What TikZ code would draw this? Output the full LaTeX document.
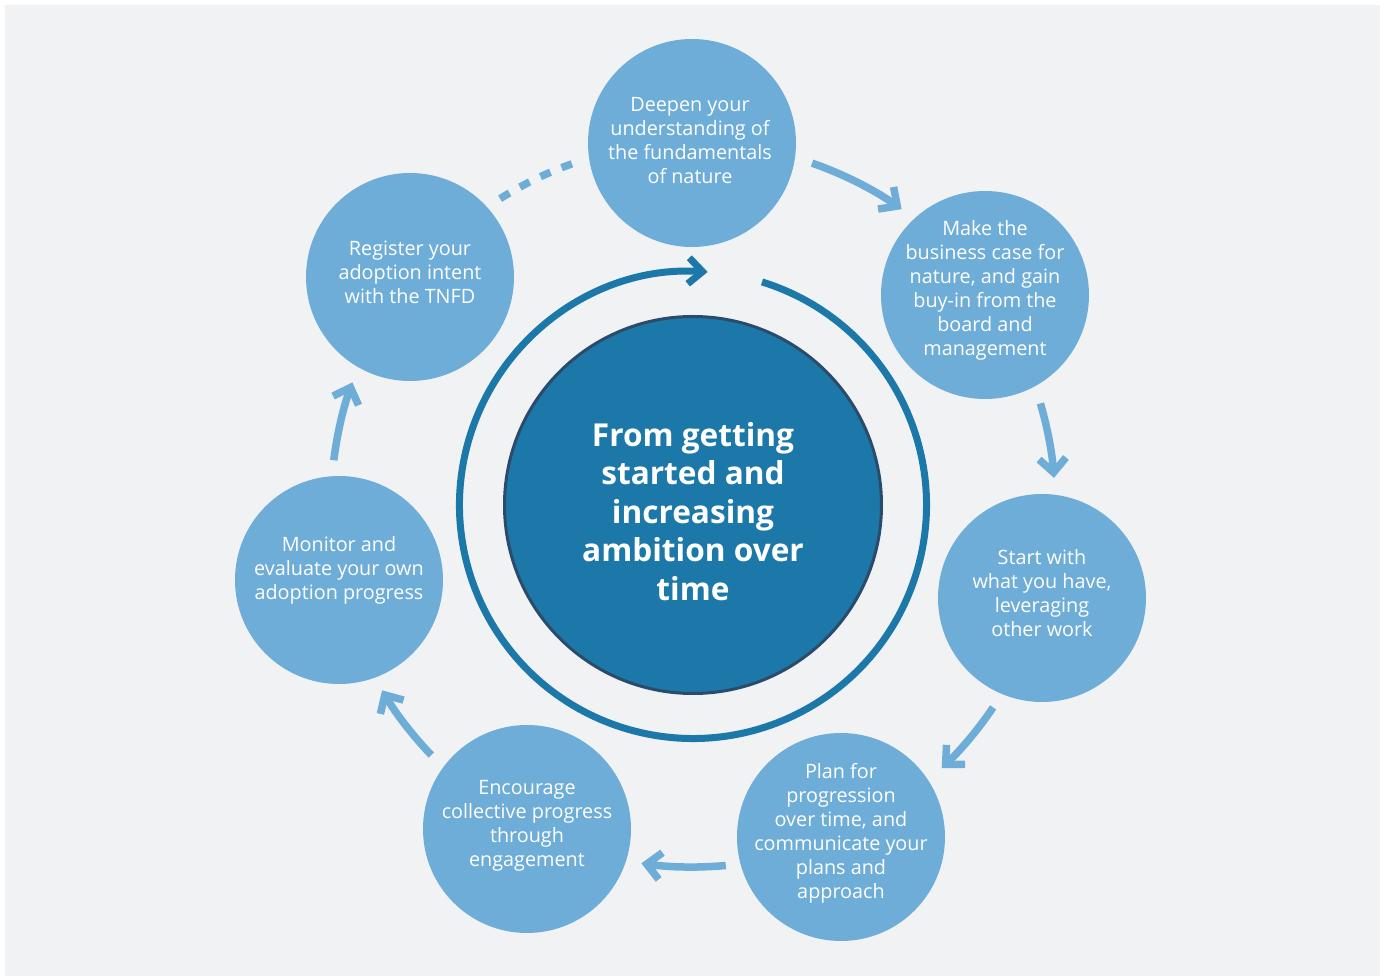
\documentclass[tikz,border=0pt]{standalone}
\usepackage{fontspec}
\setmainfont{Open Sans}
\usetikzlibrary{arrows.meta}
\definecolor{bg}{HTML}{F1F2F4}
\definecolor{lb}{HTML}{6DADD8}
\definecolor{db}{HTML}{1C78A8}
\definecolor{edgeblue}{HTML}{2A4B6B}
\tikzset{
  stage/.style={circle, fill=lb, minimum size=208pt, inner sep=0pt},
  stagetext/.style={text=white, align=center, inner sep=0pt, font=\fontsize{19.8}{24}\selectfont},
  flow/.style={draw=lb, line width=7.5pt, -{Straight Barb[length=14pt,width=27pt]}},
  dotflow/.style={draw=lb, line width=7.5pt, dash pattern=on 11pt off 12pt},
  ring/.style={draw=db, line width=7pt, -{Straight Barb[length=14pt,width=26pt]}},
  core/.style={circle, fill=db, draw=edgeblue, line width=3pt, minimum size=377pt, inner sep=0pt},
  coretext/.style={text=white, align=center, inner sep=0pt, font=\fontsize{31.6}{38.5}\selectfont\bfseries}
}
\begin{document}
\begin{tikzpicture}[x=1pt,y=1pt]
\useasboundingbox (-693,505) rectangle (694,-471);
\fill[white] (-693,505) rectangle (694,-471);
\fill[bg] (-688,500) rectangle (687,-471);

% stage circles
\node[stage] (deep) at (-1,362) {};
\node[stage] (make) at (292,210) {};
\node[stage] (start) at (349,-93) {};
\node[stage] (plan) at (148,-332) {};
\node[stage] (enc) at (-166,-324) {};
\node[stage] (mon) at (-354,-75) {};
\node[stage] (reg) at (-283,228) {};

\node[stagetext] (deept) at (-3,364) {Deepen your\\understanding of\\the fundamentals\\of nature};
\node[stagetext] (maket) at (292,214.5) {Make the\\business case for\\nature, and gain\\buy-in from the\\board and\\management};
\node[stagetext] (startt) at (349,-88.5) {Start with\\what you have,\\leveraging\\other work};
\node[stagetext] (plant) at (148,-328.5) {Plan for\\progression\\over time, and\\communicate your\\plans and\\approach};
\node[stagetext] (enct) at (-166,-320.5) {Encourage\\collective progress\\through\\engagement};
\node[stagetext] (mont) at (-354,-65.5) {Monitor and\\evaluate your own\\adoption progress};
\node[stagetext] (regt) at (-283,233) {Register your\\adoption intent\\with the TNFD};

% centre
\node[core] (core) at (0,0) {};
\node[coretext] (coret) at (0,-6.5) {From getting\\started and\\increasing\\ambition over\\time};

% ring arrow
\coordinate (ringstart) at (72.8:233.5);
\draw[ring] (ringstart) arc[start angle=72.8, end angle=-273.6, radius=233.5];

% flow arrows
\coordinate (f1) at (70.8:362);
\coordinate (f2) at (16.3:362);
\coordinate (f3) at (-34.0:362);
\coordinate (f4) at (-84.8:362);
\coordinate (f5) at (-136.3:362);
\coordinate (f6) at (172.9:362);
\coordinate (f7) at (122.2:362);
\draw[flow] (f1) arc[start angle=70.8, end angle=54.8, radius=362];
\draw[flow] (f2) arc[start angle=16.3, end angle=4.3, radius=362];
\draw[flow] (f3) arc[start angle=-34.0, end angle=-46.6, radius=362];
\draw[flow] (f4) arc[start angle=-84.8, end angle=-98.2, radius=362];
\draw[flow] (f5) arc[start angle=-136.3, end angle=-149.2, radius=362];
\draw[flow] (f6) arc[start angle=172.9, end angle=160.2, radius=362];
\draw[dotflow] (f7) arc[start angle=122.2, end angle=109.3, radius=362];
\end{tikzpicture}
\end{document}
